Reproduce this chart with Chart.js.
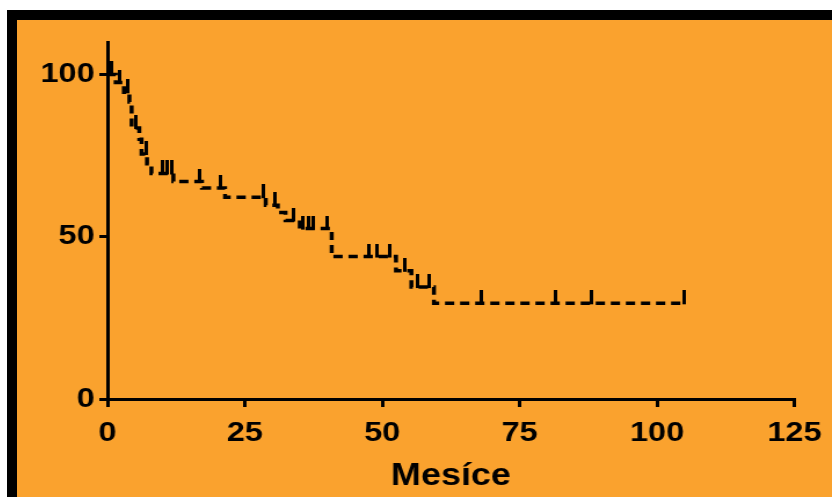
<!DOCTYPE html>
<html>
<head>
<meta charset="utf-8">
<title>Přežití – Kaplan-Meier</title>
<script src="https://cdn.jsdelivr.net/npm/chart.js@4.4.1/dist/chart.umd.min.js"></script>
<style>
  html, body { margin: 0; padding: 0; background: #fff; width: 832px; height: 497px; overflow: hidden; }
  /* orange panel with the black edge at the top and left */
  #frame {
    position: absolute; left: 7px; top: 10px;
    width: 825px; height: 487px; box-sizing: border-box;
    border-top: 10px solid #000; border-left: 10px solid #000;
    background: #FAA22E;
  }
  /* the original graph is a horizontally stretched export, so the
     canvas is drawn narrower and widened back to the full panel */
  #wrap {
    position: relative; width: 703px; height: 477px;
    transform: scaleX(1.1593); transform-origin: 0 0;
  }
</style>
</head>
<body>
<div id="frame"><div id="wrap"><canvas id="kmChart"></canvas></div></div>
<script>
/* ── Data ───────────────────────────────────────────────────── */
/* Kaplan-Meier steps: time (months) and survival (%) after each event;
   the last pair just carries the final level out to the last follow-up */
const stepTimes = [0, 1.5, 3, 4, 4.4, 5.8, 6.2, 7.2, 8, 12, 17.2, 21.4, 28.8, 31, 32.4, 35, 40.8, 52.5, 55.3, 59.4, 105];
const stepSurv  = [100, 97.5, 94.5, 91.5, 83.5, 80, 75.5, 72.5, 69.5, 67, 65, 62.2, 59.7, 57.5, 55, 52.5, 43.9, 39.5, 34.5, 29.5, 29.5];

/* Censored patients: time (months) and the survival level they sit on */
const censorTimes = [0.8, 2.3, 3.6, 5.2, 7.0, 10.0, 10.9, 11.8, 16.8, 20.6, 28.4, 30.4, 33.8, 35.6, 36.5, 37.4, 40.0, 47.6, 49.1, 51.3, 54.0, 56.5, 58.6, 68, 81.5, 88, 105];
const censorSurv  = [100, 97.5, 94.5, 83.5, 75.5, 69.5, 69.5, 69.5, 67, 65, 62.2, 59.7, 55, 52.5, 52.5, 52.5, 52.5, 43.9, 43.9, 43.9, 39.5, 34.5, 34.5, 29.5, 29.5, 29.5, 29.5];

/* Axis ticks */
const xTicks = [0, 25, 50, 75, 100, 125];
const yTicks = [0, 50, 100];
const xTitle = "Mesíce";

/* ── Censor mark: short vertical bar standing on the line ───── */
/* The image is centred on the point, so only its top half is drawn */
function makeCensorMark() {
  const c = document.createElement("canvas");
  c.width = 3;
  c.height = 26;
  const g = c.getContext("2d");
  g.fillStyle = "#000";
  g.fillRect(0, 0, 3, 14);
  return c;
}

/* ── Chart ──────────────────────────────────────────────────── */
Chart.defaults.font.family = "'Liberation Sans', Arial, sans-serif";
Chart.defaults.color = "#000";

const tickFont = { size: 28, weight: "bold" };

new Chart(document.getElementById("kmChart"), {
  type: "line",
  data: {
    datasets: [
      {
        label: "Přežití",
        data: stepTimes.map((t, i) => ({ x: t, y: stepSurv[i] })),
        stepped: true,
        borderColor: "#000",
        borderWidth: 3.5,
        borderDash: [8, 5],
        pointRadius: 0,
        fill: false,
      },
      {
        type: "scatter",
        label: "Cenzurováno",
        data: censorTimes.map((t, i) => ({ x: t, y: censorSurv[i] })),
        pointStyle: makeCensorMark(),
        pointRadius: 7,
        showLine: false,
      },
    ],
  },
  options: {
    responsive: true,
    maintainAspectRatio: false,
    animation: false,
    layout: { padding: { left: 0, right: 30, top: 22, bottom: 2 } },
    plugins: { legend: { display: false }, tooltip: { enabled: false } },
    scales: {
      x: {
        type: "linear",
        min: 0,
        max: 125,
        afterBuildTicks: (s) => { s.ticks = xTicks.map((v) => ({ value: v })); },
        afterFit: (s) => { s.height = 96; },
        ticks: { font: tickFont, color: "#000", padding: 9 },
        grid: { drawOnChartArea: false, drawTicks: true, tickLength: 8, color: "#000", lineWidth: 3 },
        border: { display: true, color: "#000", width: 3 },
        title: { display: true, text: xTitle, color: "#000", font: { size: 31, weight: "bold" }, padding: 0 },
      },
      y: {
        min: 0,
        max: 110,
        afterBuildTicks: (s) => { s.ticks = yTicks.map((v) => ({ value: v })); },
        afterFit: (s) => { s.width = 78; },
        ticks: { font: tickFont, color: "#000", padding: 4 },
        grid: { drawOnChartArea: false, drawTicks: true, tickLength: 7, color: "#000", lineWidth: 3 },
        border: { display: true, color: "#000", width: 3 },
      },
    },
  },
});
</script>
</body>
</html>
